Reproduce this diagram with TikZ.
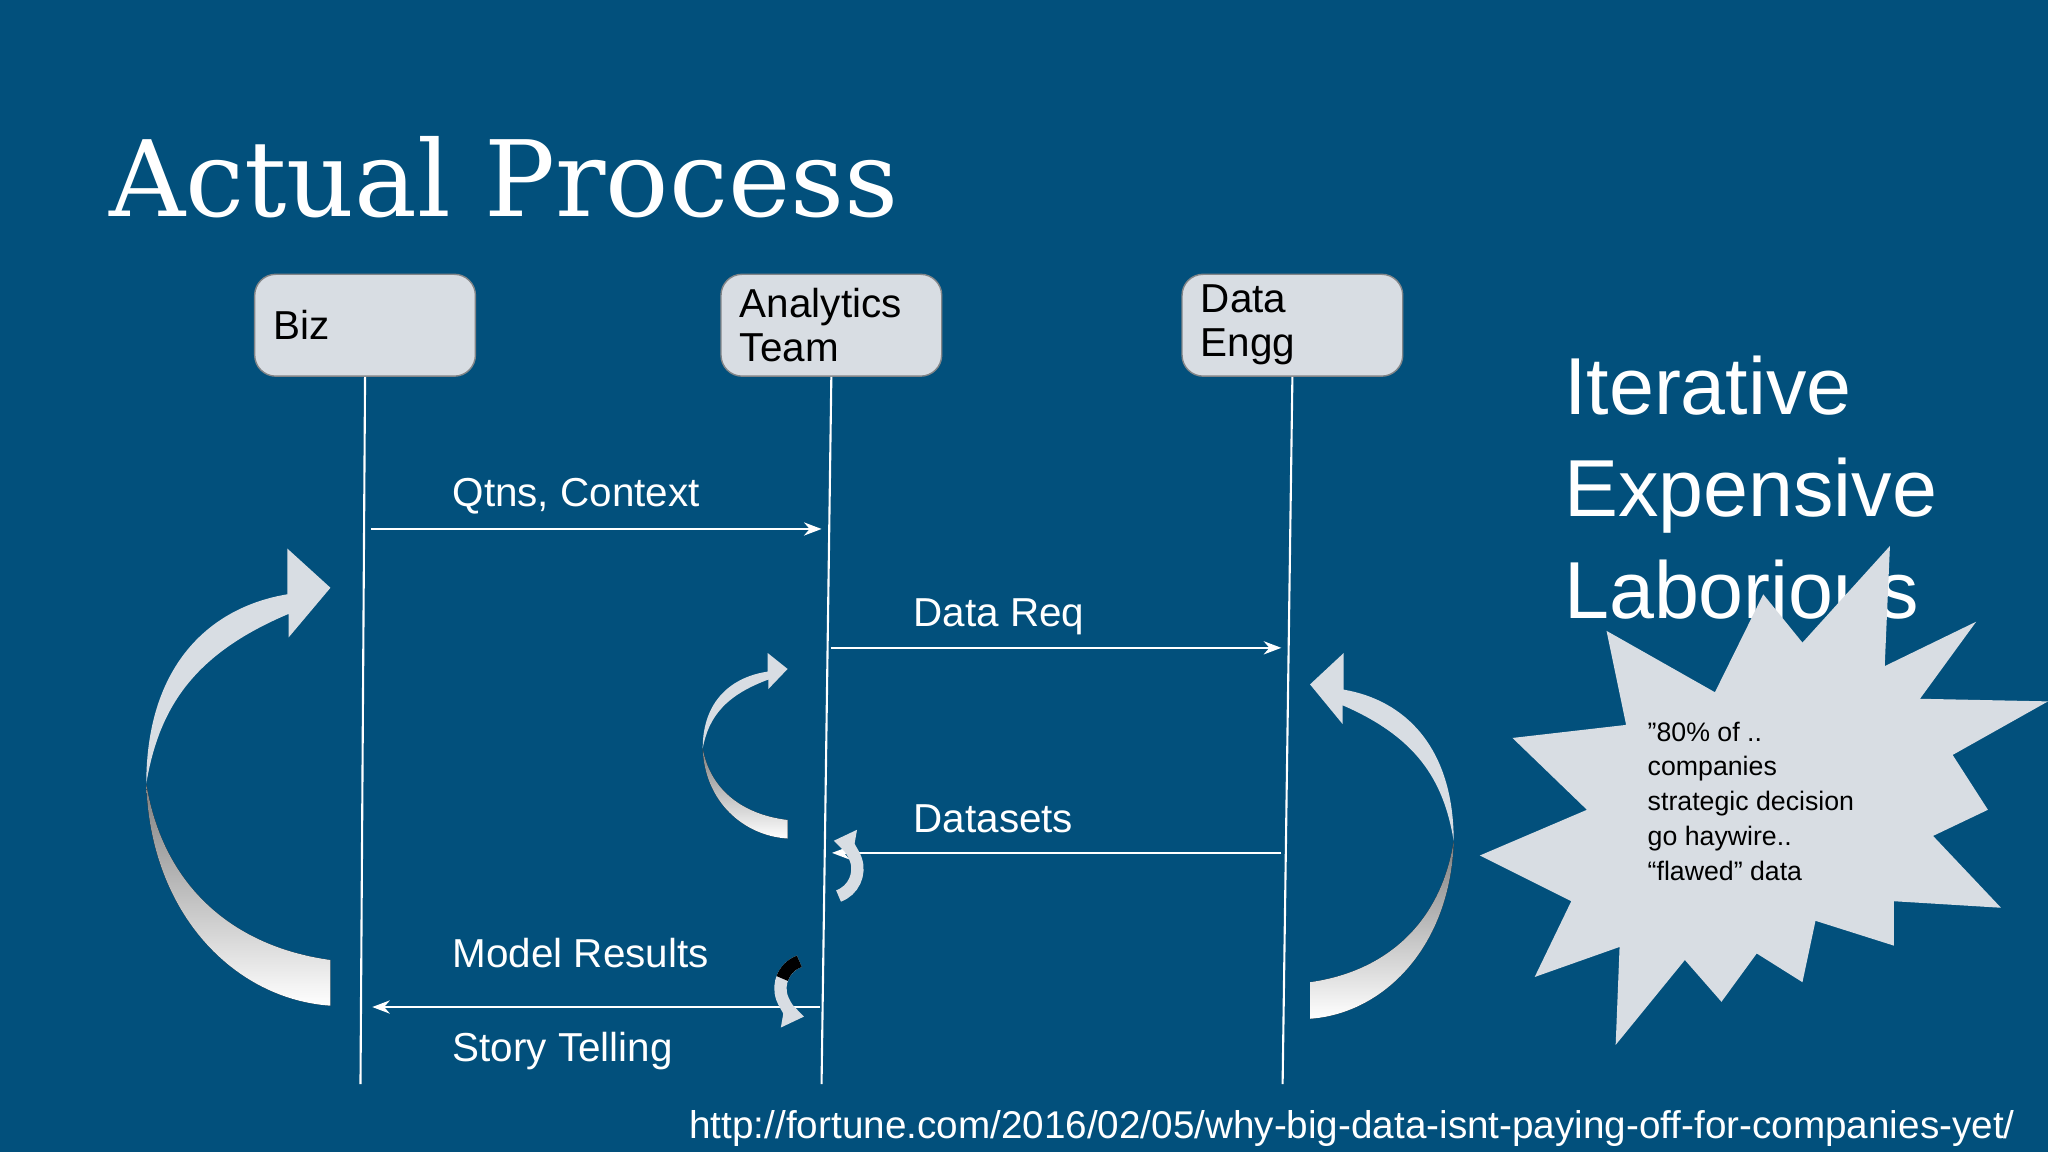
\documentclass[tikz,border=0pt]{standalone}
\usepackage{fontspec}
\setmainfont{Liberation Sans}
\newfontfamily\slab{DejaVu Serif}
\usetikzlibrary{arrows.meta}
\definecolor{bg}{HTML}{02507C}
\definecolor{boxfill}{HTML}{D8DDE3}
\definecolor{shade}{HTML}{A3A8AE}
\tikzset{
  actor/.style={draw=boxfill!60!black,fill=boxfill,rounded corners=6pt,minimum width=169*0.0130612cm,minimum height=78*0.0130612cm,text width=140*0.0130612cm,align=left,font=\fontsize{11.5}{12.5}\selectfont,inner sep=0pt},
  life/.style={draw=white,line width=0.6pt},
  msg/.style={draw=white,line width=0.6pt,-{Stealth[length=5pt]}},
  lbl/.style={text=white,font=\fontsize{11.5}{13}\selectfont,anchor=base west,inner sep=0pt},
}
% curved arrow drawn in a 141 x 350 box, origin at top left
\newcommand\loopshape{%
  \fill[shade] (0,180) .. controls (3,280) and (68,345) .. (141,350)
    -- (141,315) .. controls (68,305) and (13,260) .. (0,180) -- cycle;
  \fill[boxfill] (0,180) .. controls (0,90) and (48,45) .. (108,35)
    -- (108,0) -- (141,30) -- (109,68) -- (109,50)
    .. controls (38,80) and (10,120) .. (0,180) -- cycle;}
\begin{document}
\begin{tikzpicture}[x=0.0130612cm,y=-0.0130612cm]
\fill[bg] (0,0) rectangle (1568,882);
\useasboundingbox (0,0) rectangle (1568,882);
\node[text=white,font=\slab\fontsize{30}{34}\selectfont,anchor=base west,inner sep=0pt] (title) at (83,166) {Actual Process};

\node[actor] (biz) at (279.5,249) {Biz};
\node[actor] (ana) at (636.5,249) {Analytics\\Team};
\node[actor] (eng) at (989.5,249) {Data\\Engg};

\coordinate (bizend) at (276,830);
\coordinate (anaend) at (629,830);
\coordinate (engend) at (982,830);
\draw[life] (biz.south) -- (bizend);
\draw[life] (ana.south) -- (anaend);
\draw[life] (eng.south) -- (engend);

\coordinate (m1a) at (284,405); \coordinate (m1b) at (629,405);
\coordinate (m2a) at (636,496); \coordinate (m2b) at (981,496);
\coordinate (m3a) at (981,653); \coordinate (m3b) at (637,653);
\coordinate (m4a) at (628,771); \coordinate (m4b) at (285,771);
\draw[msg] (m1a) -- (m1b);
\draw[msg] (m2a) -- (m2b);
\draw[msg] (m3a) -- (m3b);
\draw[msg] (m4a) -- (m4b);
\node[lbl] (l1) at (346,388) {Qtns, Context};
\node[lbl] (l2) at (699,480) {Data Req};
\node[lbl] (l3) at (699,637) {Datasets};
\node[lbl] (l4) at (346,741) {Model Results};
\node[lbl] (l5) at (346,813) {Story Telling};

\begin{scope}[shift={(112,420)}] \loopshape \end{scope}
\begin{scope}[shift={(538,500)},xscale=65/141,yscale=142/350] \loopshape \end{scope}
\begin{scope}[shift={(1113,500)},xscale=-110/141,yscale=280/350] \loopshape \end{scope}

\draw[boxfill,line width=3.5pt,-{Triangle[length=6pt,width=8pt]}] (612,736) arc (250:100:22);
\draw[shade,line width=3.5pt] (612,736) arc (250:200:22);
\draw[boxfill,line width=3.5pt,-{Triangle[length=6pt,width=8pt]}] (642,686) arc (70:-80:22);

\node[text=white,font=\fontsize{23}{29}\selectfont,align=left,anchor=north west,inner sep=0pt] (iter) at (1197,272) {Iterative\\Expensive\\Laborious};

\fill[boxfill] (1230,483) -- (1313,530) -- (1350,455) -- (1380,492) -- (1447,418)
  -- (1443,510) -- (1513,476) -- (1470,535) -- (1568,537) -- (1495,578)
  -- (1522,620) -- (1480,640) -- (1532,695) -- (1450,690) -- (1450,724)
  -- (1390,705) -- (1380,752) -- (1345,730) -- (1318,767) -- (1290,735)
  -- (1237,800) -- (1240,725) -- (1175,748) -- (1203,690) -- (1133,655)
  -- (1215,620) -- (1158,565) -- (1245,555) -- cycle;
\node[font=\fontsize{7.6}{9.9}\selectfont,align=left,anchor=north west,inner sep=0pt] (quote) at (1261,552) {"80\% of ..\\companies\\strategic decision\\go haywire..\\“flawed” data};

\node[text=white,font=\fontsize{11}{13}\selectfont,anchor=base east,inner sep=0pt] (url) at (1543,872) {http://fortune.com/2016/02/05/why-big-data-isnt-paying-off-for-companies-yet/};
\end{tikzpicture}
\end{document}
